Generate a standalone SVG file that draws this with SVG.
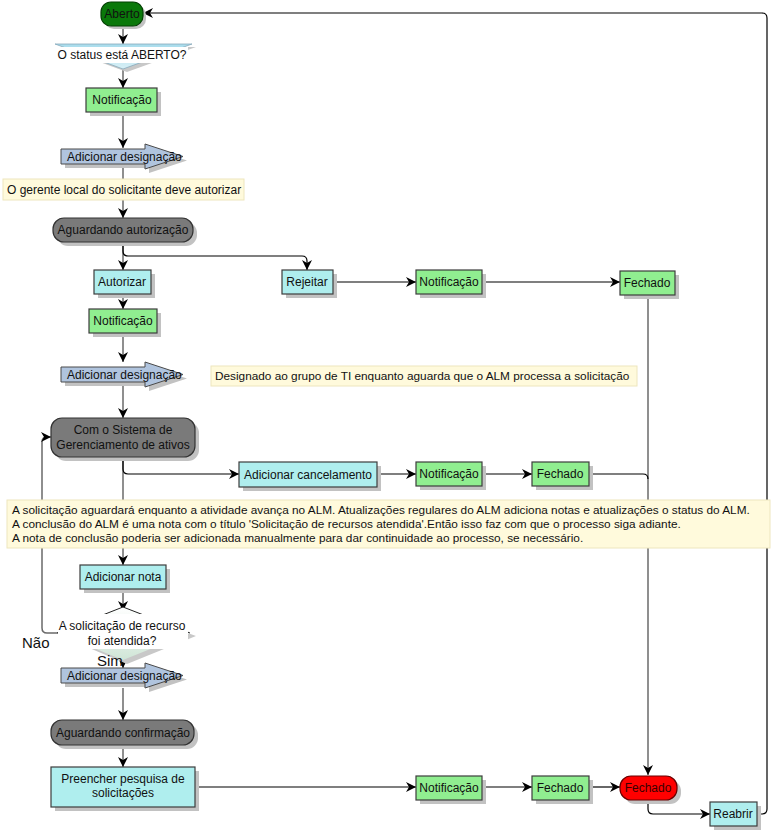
<svg xmlns="http://www.w3.org/2000/svg" width="773" height="831" viewBox="0 0 773 831">
<style>
.sh{fill:#c2c2c2}
.grn{fill:#90EE90;stroke:#3c3c3c;stroke-width:1.2}
.cyn{fill:#AFEEEE;stroke:#3c3c3c;stroke-width:1.2}
.dk{fill:#7a7a7a;stroke:#333;stroke-width:1.2}
.blu{fill:#B0C4DE;stroke:#4a4a4a;stroke-width:1}
.note{fill:#FFFADC;stroke:#EDE6BE;stroke-width:1}
.t{font-family:"Liberation Sans",Arial,sans-serif;font-size:12px;fill:#111}
.nt{font-family:"Liberation Sans",Arial,sans-serif;font-size:11.8px;fill:#111}
.c{text-anchor:middle}
.lbl{font-family:"Liberation Sans",Arial,sans-serif;font-size:15px;fill:#111}
.v{stroke:#6a6a6a;stroke-width:1.5;fill:none}
.h{stroke:#000;stroke-width:1.2;fill:none}
</style>
<defs>
<marker id="ah" markerUnits="userSpaceOnUse" markerWidth="11" markerHeight="10" refX="10" refY="5" orient="auto">
<path d="M0,0 L10,5 L0,10 L3,5 Z" fill="#000"/>
</marker>
<linearGradient id="dg1" x1="0" y1="0" x2="0" y2="1">
<stop offset="0" stop-color="#A8DCEC"/><stop offset="1" stop-color="#D8F0F6"/>
</linearGradient>
<linearGradient id="dg2" x1="0" y1="0" x2="0" y2="1">
<stop offset="0" stop-color="#FFFFFF"/><stop offset="1" stop-color="#CFE5D6"/>
</linearGradient>
<path id="arrshape" d="M61,149 H145 V144 L183,156.5 L145,169 V164 H61 Z"/>
</defs>

<g id="connectors">
<path class="v" d="M123,26 V44" marker-end="url(#ah)"/>
<path class="v" d="M123,69 V88" marker-end="url(#ah)"/>
<path class="v" d="M123,112 V148" marker-end="url(#ah)"/>
<path class="v" d="M123,165 V218" marker-end="url(#ah)"/>
<path class="v" d="M123,242 V270" marker-end="url(#ah)"/>
<path class="h" d="M123,244 V251 Q123,256 128,256 H302 Q307,256 307,261 V270" marker-end="url(#ah)"/>
<path class="v" d="M123,294 V309" marker-end="url(#ah)"/>
<path class="v" d="M123,333 V362" marker-end="url(#ah)"/>
<path class="v" d="M123,384 V418" marker-end="url(#ah)"/>
<path class="v" d="M123,457 V565" marker-end="url(#ah)"/>
<path class="h" d="M123,459 V469 Q123,474 128,474 H239" marker-end="url(#ah)"/>
<path class="h" d="M333,282 H416" marker-end="url(#ah)"/>
<path class="h" d="M482,282 H620" marker-end="url(#ah)"/>
<path class="v" d="M648,294 V775" marker-end="url(#ah)"/>
<path class="h" d="M377,474 H416" marker-end="url(#ah)"/>
<path class="h" d="M482,474 H532" marker-end="url(#ah)"/>
<path class="h" d="M589,474 H643 Q648,474 648,479"/>
<path class="v" d="M123,589 V611" marker-end="url(#ah)"/>
<path class="v" d="M123,656 V668" marker-end="url(#ah)"/>
<path class="v" d="M58,633 H47 Q42,633 42,628 V442 Q42,437 47,437 H51" marker-end="url(#ah)"/>
<path class="v" d="M123,688 V720" marker-end="url(#ah)"/>
<path class="v" d="M123,745 V767" marker-end="url(#ah)"/>
<path class="h" d="M195,787 H416" marker-end="url(#ah)"/>
<path class="h" d="M482,787 H532" marker-end="url(#ah)"/>
<path class="h" d="M589,787 H620" marker-end="url(#ah)"/>
<path class="h" d="M648,799 V809 Q648,814 653,814 H710" marker-end="url(#ah)"/>
<path class="h" d="M757,814 H762 Q767,814 767,809 V18 Q767,13 762,13 H143" marker-end="url(#ah)"/>
</g>

<g id="aberto">
<rect class="sh" x="104" y="5" width="42" height="24" rx="10"/>
<rect x="101" y="2" width="42" height="24" rx="10" fill="#0A780A" stroke="#034003" stroke-width="1.2"/>
<text class="t c" x="122" y="18">Aberto</text>
</g>

<g id="decisao-aberto">
<polygon points="59,47 196,47 127,72" fill="#c8c8c8"/>
<polygon points="55,44 192,44 123,69" fill="url(#dg1)" stroke="#8ab" stroke-width="0.8"/>
<rect x="57" y="47" width="131" height="16" fill="#fff"/>
<text class="t c" x="122" y="59">O status está ABERTO?</text>
</g>

<g id="notificacao1">
<rect class="sh" x="90" y="92" width="71" height="24"/>
<rect class="grn" x="86" y="88" width="71" height="24"/>
<text class="t c" x="122" y="104">Notificação</text>
</g>

<g id="adic-designacao1">
<use href="#arrshape" class="sh" transform="translate(4,4)"/>
<use href="#arrshape" class="blu"/>
<text class="t" x="67" y="161">Adicionar designação</text>
</g>

<g id="nota-gerente">
<rect class="note" x="3" y="179" width="241" height="21"/>
<text class="t" x="7" y="194">O gerente local do solicitante deve autorizar</text>
</g>

<g id="aguardando-autorizacao">
<rect class="sh" x="57" y="222" width="140" height="24" rx="11"/>
<rect class="dk" x="53" y="218" width="140" height="24" rx="11"/>
<text class="t c" x="123" y="234">Aguardando autorização</text>
</g>

<g id="autorizar">
<rect class="sh" x="98" y="274" width="57" height="24"/>
<rect class="cyn" x="94" y="270" width="57" height="24"/>
<text class="t c" x="122" y="286">Autorizar</text>
</g>

<g id="rejeitar">
<rect class="sh" x="286" y="274" width="51" height="24"/>
<rect class="cyn" x="282" y="270" width="51" height="24"/>
<text class="t c" x="307" y="286">Rejeitar</text>
</g>

<g id="notificacao-rej">
<rect class="sh" x="420" y="274" width="66" height="24"/>
<rect class="grn" x="416" y="270" width="66" height="24"/>
<text class="t c" x="449" y="286">Notificação</text>
</g>

<g id="fechado-rej">
<rect class="sh" x="624" y="275" width="55" height="24"/>
<rect class="grn" x="620" y="271" width="55" height="24"/>
<text class="t c" x="647" y="287">Fechado</text>
</g>

<g id="notificacao2">
<rect class="sh" x="93" y="313" width="68" height="24"/>
<rect class="grn" x="89" y="309" width="68" height="24"/>
<text class="t c" x="123" y="325">Notificação</text>
</g>

<g id="adic-designacao2">
<use href="#arrshape" class="sh" transform="translate(4,222)"/>
<use href="#arrshape" class="blu" transform="translate(0,218)"/>
<text class="t" x="67" y="379">Adicionar designação</text>
</g>

<g id="nota-designado">
<rect class="note" x="211" y="366" width="426" height="20"/>
<text class="nt" x="215" y="380">Designado ao grupo de TI enquanto aguarda que o ALM processa a solicitação</text>
</g>

<g id="com-sistema">
<rect class="sh" x="55" y="422" width="144" height="39" rx="11"/>
<rect class="dk" x="51" y="418" width="144" height="39" rx="11"/>
<text class="t c" x="123" y="434">Com o Sistema de</text>
<text class="t c" x="123" y="449">Gerenciamento de ativos</text>
</g>

<g id="adic-cancelamento">
<rect class="sh" x="243" y="466" width="138" height="25"/>
<rect class="cyn" x="239" y="462" width="138" height="25"/>
<text class="t c" x="308" y="479">Adicionar cancelamento</text>
</g>

<g id="notificacao-canc">
<rect class="sh" x="420" y="466" width="66" height="24"/>
<rect class="grn" x="416" y="462" width="66" height="24"/>
<text class="t c" x="449" y="478">Notificação</text>
</g>

<g id="fechado-canc">
<rect class="sh" x="536" y="466" width="57" height="24"/>
<rect class="grn" x="532" y="462" width="57" height="24"/>
<text class="t c" x="560" y="478">Fechado</text>
</g>

<g id="nota-alm">
<rect class="note" x="7" y="500" width="763" height="48"/>
<text class="nt" x="12" y="514">A solicitação aguardará enquanto a atividade avança no ALM. Atualizações regulares do ALM adiciona notas e atualizações o status do ALM.</text>
<text class="nt" x="12" y="528">A conclusão do ALM é uma nota com o título 'Solicitação de recursos atendida'.Então isso faz com que o processo siga adiante.</text>
<text class="nt" x="12" y="542">A nota de conclusão poderia ser adicionada manualmente para dar continuidade ao processo, se necessário.</text>
</g>

<g id="adic-nota">
<rect class="sh" x="84" y="569" width="86" height="24"/>
<rect class="cyn" x="80" y="565" width="86" height="24"/>
<text class="t c" x="123" y="581">Adicionar nota</text>
</g>

<g id="decisao-atendida">
<polygon points="127,611 196,636 127,664 61,636" fill="#c8c8c8"/>
<polygon points="123,607 190,633 123,660 57,633" fill="url(#dg2)"/>
<path d="M57,633 L123,607 L190,633" fill="none" stroke="#222" stroke-width="1"/>
<rect x="58" y="614" width="130" height="35" fill="#fff"/>
<text class="t c" x="122" y="630">A solicitação de recurso</text>
<text class="t c" x="122" y="645">foi atendida?</text>
</g>

<g id="rotulos">
<text class="lbl" x="22" y="648">Não</text>
<text class="lbl" x="97" y="666">Sim</text>
</g>

<g id="adic-designacao3">
<use href="#arrshape" class="sh" transform="translate(4,523)"/>
<use href="#arrshape" class="blu" transform="translate(0,519)"/>
<text class="t" x="67" y="680">Adicionar designação</text>
</g>

<g id="aguardando-confirmacao">
<rect class="sh" x="55" y="724" width="143" height="25" rx="11"/>
<rect class="dk" x="51" y="720" width="143" height="25" rx="11"/>
<text class="t c" x="123" y="737">Aguardando confirmação</text>
</g>

<g id="preencher-pesquisa">
<rect class="sh" x="55" y="771" width="144" height="40"/>
<rect class="cyn" x="51" y="767" width="144" height="40"/>
<text class="t c" x="123" y="783">Preencher pesquisa de</text>
<text class="t c" x="123" y="797">solicitações</text>
</g>

<g id="notificacao-final">
<rect class="sh" x="420" y="780" width="66" height="24"/>
<rect class="grn" x="416" y="776" width="66" height="24"/>
<text class="t c" x="449" y="792">Notificação</text>
</g>

<g id="fechado-final">
<rect class="sh" x="536" y="780" width="57" height="24"/>
<rect class="grn" x="532" y="776" width="57" height="24"/>
<text class="t c" x="560" y="792">Fechado</text>
</g>

<g id="fechado-estado">
<rect class="sh" x="624" y="780" width="57" height="24" rx="11"/>
<rect x="620" y="776" width="57" height="24" rx="11" fill="#FF0000" stroke="#6a0000" stroke-width="1.2"/>
<text class="t c" x="648" y="792" style="fill:#3a0000">Fechado</text>
</g>

<g id="reabrir">
<rect class="sh" x="714" y="806" width="47" height="24"/>
<rect class="cyn" x="710" y="802" width="47" height="24"/>
<text class="t c" x="733" y="818">Reabrir</text>
</g>
</svg>
